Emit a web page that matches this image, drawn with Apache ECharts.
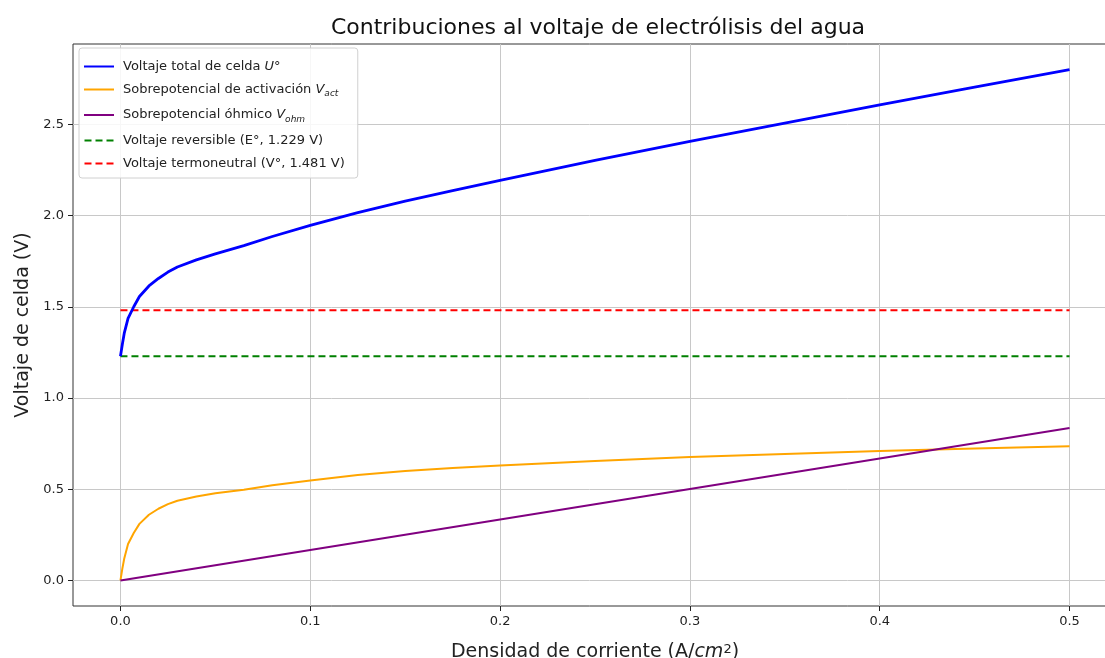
<!DOCTYPE html>
<html>
<head>
<meta charset="utf-8">
<script src="https://cdn.jsdelivr.net/npm/echarts@6/dist/echarts.min.js"></script>
<style>
  html, body { margin: 0; padding: 0; background: #fff; }
  #chart { width: 1105px; height: 658px; }
</style>
</head>
<body>
<div id="chart"></div>
<script>
// current density (A/cm2) sample points
const currentX = [0, 0.001, 0.002, 0.004, 0.007, 0.01, 0.015, 0.02, 0.025, 0.03, 0.04, 0.05, 0.065, 0.08,
  0.1, 0.125, 0.15, 0.175, 0.2, 0.25, 0.3, 0.35, 0.4, 0.45, 0.5]
const totalU = [1.229, 1.295, 1.355, 1.436, 1.5, 1.556, 1.614, 1.655, 1.69, 1.718, 1.757, 1.79, 1.835, 1.885,
  1.946, 2.016, 2.079, 2.137, 2.193, 2.302, 2.406, 2.506, 2.606, 2.703, 2.8]
const activation = [0, 0.065, 0.12, 0.2, 0.26, 0.31, 0.36, 0.393, 0.418, 0.437, 0.46, 0.478, 0.497, 0.522,
  0.548, 0.578, 0.6, 0.616, 0.63, 0.655, 0.676, 0.693, 0.709, 0.723, 0.736]
const ohmX = [0, 0.1, 0.2, 0.3, 0.4, 0.5]
const ohmic = [0, 0.167, 0.334, 0.501, 0.668, 0.835]
const reversibleE = 1.229
const thermoneutralV = 1.481
const xTicks = [0, 0.1, 0.2, 0.3, 0.4, 0.5]
const yTicks = [0, 0.5, 1.0, 1.5, 2.0, 2.5]

const font = 'DejaVu Sans'
const chart = echarts.init(document.getElementById('chart'))

function pairs(xs, ys) {
  return xs.map((x, i) => [x, ys[i]])
}

// legend handles drawn as plain strokes, like the matplotlib ones
const solidIcon = 'path://M0,0h30v2h-30z'
const dashIcon = 'path://M0,0h7v2h-7z M11,0h7v2h-7z M22,0h7v2h-7z'

const legendRich = {
  n: { fontFamily: font, fontSize: 13, color: '#222', lineHeight: 18 },
  i: { fontFamily: font, fontSize: 13, color: '#222', fontStyle: 'italic', lineHeight: 18 },
  s: { fontFamily: font, fontSize: 9, color: '#222', fontStyle: 'italic', verticalAlign: 'bottom', lineHeight: 9 }
}

const legendText = {
  'U': '{n|Voltaje total de celda }{i|U}{n|°}',
  'act': '{n|Sobrepotencial de activación }{i|V}{s|act}',
  'ohm': '{n|Sobrepotencial óhmico }{i|V}{s|ohm}',
  'rev': '{n|Voltaje reversible (E°, 1.229 V)}',
  'thermo': '{n|Voltaje termoneutral (V°, 1.481 V)}'
}

const option = {
  animation: false,
  title: {
    text: 'Contribuciones al voltaje de electrólisis del agua',
    left: 593,
    textAlign: 'center',
    top: 12,
    textStyle: { fontFamily: font, fontSize: 22, fontWeight: 'normal', color: '#111' }
  },
  grid: {
    left: 73,
    right: -12,
    top: 44,
    bottom: 52,
    outerBoundsMode: 'none',
    containLabel: false,
    show: true,
    borderColor: '#333',
    borderWidth: 1
  },
  legend: {
    orient: 'vertical',
    left: 79,
    top: 48,
    padding: [12, 13, 8, 5],
    itemWidth: 30,
    itemHeight: 2,
    itemGap: 10,
    backgroundColor: 'rgba(255,255,255,0.85)',
    borderColor: '#d0d0d0',
    borderWidth: 1,
    borderRadius: 3,
    formatter: name => legendText[name],
    textStyle: { rich: legendRich, padding: [0, 0, 0, 4] },
    data: [
      { name: 'U', icon: solidIcon },
      { name: 'act', icon: solidIcon },
      { name: 'ohm', icon: solidIcon },
      { name: 'rev', icon: dashIcon },
      { name: 'thermo', icon: dashIcon }
    ]
  },
  xAxis: {
    type: 'value',
    min: -0.025,
    max: 0.525,
    name: '{n|Densidad de corriente (A/}{i|cm}{p|2}{n|)}',
    nameLocation: 'middle',
    nameGap: 37,
    nameTextStyle: {
      rich: {
        n: { fontFamily: font, fontSize: 19, color: '#222' },
        i: { fontFamily: font, fontSize: 19, color: '#222', fontStyle: 'italic' },
        p: { fontFamily: font, fontSize: 13, color: '#222', verticalAlign: 'top', lineHeight: 12 }
      }
    },
    axisLine: { show: false, onZero: false },
    axisTick: { show: true, length: 5, lineStyle: { color: '#222' }, customValues: xTicks },
    axisLabel: {
      customValues: xTicks,
      formatter: v => v.toFixed(1),
      fontFamily: font, fontSize: 13, color: '#222', margin: 9
    },
    splitLine: { show: true, lineStyle: { color: '#c8c8c8', width: 1 } }
  },
  yAxis: {
    type: 'value',
    min: -0.14,
    max: 2.94,
    name: 'Voltaje de celda (V)',
    nameLocation: 'middle',
    nameGap: 40,
    nameTextStyle: { fontFamily: font, fontSize: 19, color: '#222' },
    axisLine: { show: false, onZero: false },
    axisTick: { show: true, length: 5, lineStyle: { color: '#222' }, customValues: yTicks },
    axisLabel: {
      customValues: yTicks,
      formatter: v => v.toFixed(1),
      fontFamily: font, fontSize: 13, color: '#222', margin: 9
    },
    splitLine: { show: true, lineStyle: { color: '#c8c8c8', width: 1 } }
  },
  series: [
    {
      name: 'U', type: 'line', showSymbol: false, symbol: 'none',
      data: pairs(currentX, totalU),
      lineStyle: { color: '#0000ff', width: 2.8 }, itemStyle: { color: '#0000ff' }, z: 5
    },
    {
      name: 'act', type: 'line', showSymbol: false, symbol: 'none',
      data: pairs(currentX, activation),
      lineStyle: { color: '#ffa500', width: 2 }, itemStyle: { color: '#ffa500' }
    },
    {
      name: 'ohm', type: 'line', showSymbol: false, symbol: 'none',
      data: pairs(ohmX, ohmic),
      lineStyle: { color: '#800080', width: 2 }, itemStyle: { color: '#800080' }
    },
    {
      name: 'rev', type: 'line', showSymbol: false, symbol: 'none',
      data: [[0, reversibleE], [0.5, reversibleE]],
      lineStyle: { color: '#008000', width: 2, type: [7, 4] }, itemStyle: { color: '#008000' }
    },
    {
      name: 'thermo', type: 'line', showSymbol: false, symbol: 'none',
      data: [[0, thermoneutralV], [0.5, thermoneutralV]],
      lineStyle: { color: '#ff0000', width: 2, type: [7, 4] }, itemStyle: { color: '#ff0000' }
    }
  ]
}

chart.setOption(option)
</script>
</body>
</html>
